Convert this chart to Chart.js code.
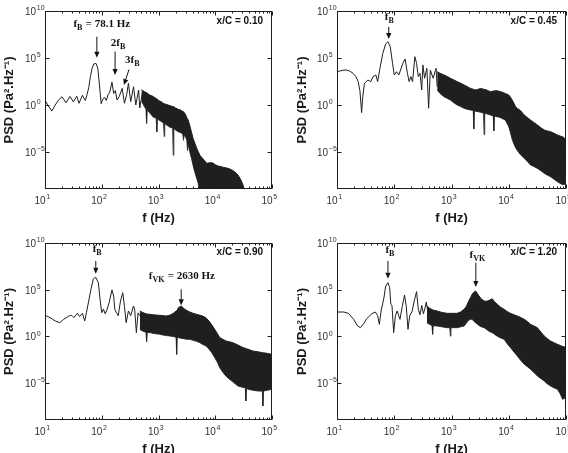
<!DOCTYPE html>
<html><head><meta charset="utf-8">
<script src="https://cdn.jsdelivr.net/npm/chart.js@4.4.1/dist/chart.umd.min.js"></script>
<style>
html,body{margin:0;padding:0;background:#fff;overflow:hidden;width:568px;height:453px;position:relative;}
.p{position:absolute;}
canvas{display:block;}
</style></head><body>
<div class="p" style="left:0;top:0"><canvas id="c0" width="284" height="226"></canvas></div>
<div class="p" style="left:284px;top:0"><canvas id="c1" width="284" height="226"></canvas></div>
<div class="p" style="left:0;top:226px"><canvas id="c2" width="284" height="231"></canvas></div>
<div class="p" style="left:284px;top:226px"><canvas id="c3" width="284" height="231"></canvas></div>
<script>
// ---- axis ticks ----
const xTickValues = [1e1, 1e2, 1e3, 1e4, 1e5];
const xTickExponents = ['1', '2', '3', '4', '5'];
const yTickValues = [1e-5, 1e0, 1e5, 1e10];
const yTickExponents = ['\u22125', '0', '5', '10'];
const tickBase = '10';
const xTitle = 'f (Hz)';
const yTitle = 'PSD (Pa².Hz⁻¹)';
const panelLabels = ['x/C = 0.10', 'x/C = 0.45', 'x/C = 0.90', 'x/C = 1.20'];

// ---- values: log10(f [Hz]) and log10(PSD) ----
// x/C = 0.10
const tlLineLogF = [1.00,1.06,1.12,1.18,1.24,1.30,1.37,1.44,1.50,1.56,1.60,1.66,1.71,1.74,1.77,1.80,1.83,1.86,1.90,1.93,1.95,1.97,1.99,2.02,2.05,2.08,2.11,2.14,2.18,2.21,2.24,2.27,2.31,2.36,2.40,2.44,2.47,2.51,2.56,2.60,2.65,2.67,2.72];
const tlLineLogPSD = [0.48,-0.14,-0.68,-0.04,0.50,0.85,0.20,0.88,0.30,0.90,0.15,1.00,0.45,1.05,1.80,3.00,3.90,4.35,4.40,3.90,2.70,1.40,0.10,0.60,0.79,0.45,1.04,1.30,2.40,1.20,1.50,0.50,0.90,1.75,0.15,1.10,2.28,0.32,1.92,-0.03,1.57,-0.35,1.39];
const tlBandLogF = [2.70,2.75,2.78,2.79,2.80,2.85,2.90,2.96,2.97,2.98,3.00,3.05,3.09,3.10,3.11,3.15,3.20,3.25,3.26,3.27,3.30,3.35,3.40,3.43,3.44,3.45,3.48,3.50,3.51,3.52,3.55,3.58,3.61,3.64,3.67,3.70,3.73,3.76,3.80,3.85,3.90,3.95,4.00,4.05,4.10,4.15,4.20,4.25,4.30,4.35,4.40,4.44,4.48,4.51];
const tlBandTopLogPSD = [1.60,1.40,1.30,1.30,1.25,1.00,0.90,0.65,0.65,0.60,0.45,0.30,0.12,0.10,0.08,0.00,-0.10,-0.20,-0.20,-0.25,-0.35,-0.50,-0.60,-0.75,-0.75,-0.80,-1.10,-1.40,-1.50,-1.60,-2.20,-2.90,-3.60,-4.10,-4.60,-5.00,-5.40,-5.60,-5.90,-6.25,-6.20,-6.20,-6.40,-6.55,-6.60,-6.70,-6.75,-6.85,-7.00,-7.20,-7.50,-7.90,-8.40,-9.00];
const tlBandBotLogPSD = [0.40,-0.20,-0.50,-2.00,-0.60,-0.90,-1.30,-1.45,-2.90,-1.50,-1.60,-1.80,-1.98,-3.40,-2.02,-2.20,-2.40,-2.50,-5.40,-2.55,-2.70,-2.90,-3.00,-3.20,-3.80,-3.25,-3.50,-3.80,-4.90,-4.20,-5.00,-5.70,-6.50,-7.20,-7.80,-8.40,-9.50,-9.50,-9.50,-9.50,-9.50,-9.50,-9.50,-9.50,-9.50,-9.50,-9.50,-9.50,-9.50,-9.50,-9.50,-9.50,-9.50,-9.50];

// x/C = 0.45
const trLineLogF = [1.00,1.05,1.10,1.16,1.22,1.28,1.33,1.37,1.40,1.43,1.45,1.48,1.54,1.59,1.63,1.68,1.71,1.75,1.80,1.85,1.89,1.93,1.97,2.00,2.04,2.08,2.11,2.15,2.19,2.23,2.26,2.29,2.32,2.36,2.39,2.42,2.45,2.48,2.50,2.53,2.57,2.60,2.63,2.68,2.73,2.75];
const trLineLogPSD = [3.50,3.60,3.68,3.70,3.60,3.35,3.00,2.46,1.50,-0.85,0.85,2.28,2.63,2.46,3.00,3.17,2.46,3.88,5.48,6.48,6.72,6.19,4.42,3.17,3.52,3.17,3.70,4.42,4.88,3.35,2.46,3.00,2.46,5.12,4.42,3.00,3.35,1.57,4.24,2.82,3.88,-0.38,3.70,2.82,3.88,1.92];
const trBandLogF = [2.75,2.80,2.87,2.93,2.98,3.04,3.10,3.16,3.22,3.27,3.33,3.38,3.39,3.40,3.42,3.47,3.51,3.56,3.57,3.58,3.60,3.64,3.68,3.73,3.74,3.75,3.77,3.82,3.86,3.90,3.94,4.00,4.03,4.06,4.09,4.12,4.15,4.20,4.27,4.33,4.38,4.44,4.50,4.56,4.62,4.67,4.73,4.79,4.85,4.90,4.94,4.97,5.00];
const trBandTopLogPSD = [3.52,3.35,3.17,3.00,2.81,2.65,2.46,2.30,2.10,1.95,1.74,1.65,1.65,1.62,1.57,1.65,1.74,1.65,1.65,1.62,1.60,1.50,1.39,1.45,1.45,1.48,1.50,1.45,1.39,1.30,1.20,1.03,0.80,0.50,0.15,-0.21,-0.40,-0.60,-1.10,-1.40,-1.64,-1.90,-2.17,-2.45,-2.70,-2.80,-2.88,-3.05,-3.24,-3.35,-3.42,-3.55,-3.77];
const trBandBotLogPSD = [1.57,1.20,0.85,0.65,0.50,0.20,-0.04,-0.20,-0.39,-0.48,-0.57,-0.62,-2.60,-0.65,-0.70,-0.75,-0.82,-0.90,-3.20,-0.93,-0.95,-1.02,-1.10,-1.20,-2.80,-1.22,-1.25,-1.32,-1.40,-1.52,-1.64,-2.35,-3.00,-3.70,-4.20,-4.60,-4.90,-5.30,-5.73,-6.10,-6.44,-6.60,-6.80,-7.05,-7.33,-7.50,-7.69,-7.95,-8.22,-8.40,-8.55,-8.50,-8.58];

// x/C = 0.90
const blLineLogF = [1.00,1.09,1.18,1.26,1.33,1.42,1.47,1.51,1.57,1.61,1.66,1.70,1.73,1.77,1.81,1.85,1.89,1.94,1.97,2.00,2.03,2.06,2.09,2.13,2.18,2.21,2.23,2.26,2.29,2.33,2.37,2.40,2.43,2.47,2.51,2.56,2.58,2.61,2.64,2.67];
const blLineLogPSD = [2.24,1.99,1.63,1.45,1.81,2.16,2.24,1.99,2.45,2.10,2.45,1.63,2.52,3.77,5.03,6.10,6.35,5.74,3.95,2.52,2.90,2.40,2.80,3.60,4.96,4.30,2.88,2.50,2.20,3.77,4.67,3.20,1.45,2.70,2.20,3.24,2.90,0.38,2.50,2.20];
const blBandLogF = [2.67,2.72,2.78,2.79,2.80,2.85,2.90,2.96,3.02,3.08,3.14,3.20,3.26,3.31,3.32,3.33,3.35,3.40,3.45,3.50,3.55,3.61,3.67,3.73,3.78,3.84,3.89,3.94,3.99,4.04,4.08,4.14,4.19,4.25,4.31,4.40,4.49,4.53,4.54,4.55,4.58,4.66,4.75,4.83,4.84,4.85,4.92,5.00];
const blBandTopLogPSD = [2.70,2.55,2.40,2.40,2.38,2.34,2.30,2.26,2.24,2.20,2.16,2.25,2.45,2.70,2.75,2.80,3.06,3.24,2.95,2.75,2.60,2.45,2.34,2.25,2.16,1.95,1.63,1.20,0.73,0.25,-0.16,-0.35,-0.52,-0.60,-0.70,-0.95,-1.23,-1.30,-1.32,-1.35,-1.40,-1.59,-1.68,-1.77,-1.77,-1.78,-1.85,-1.95];
const blBandBotLogPSD = [0.73,0.55,0.42,-0.60,0.40,0.38,0.30,0.25,0.20,0.12,0.06,0.02,-0.05,-0.12,-1.95,-0.13,-0.16,-0.22,-0.28,-0.34,-0.34,-0.45,-0.55,-0.70,-0.90,-1.06,-1.40,-1.77,-2.30,-2.84,-3.40,-3.92,-4.30,-4.63,-4.90,-5.35,-5.50,-5.55,-6.96,-5.60,-5.71,-5.80,-5.89,-5.90,-7.50,-5.90,-5.80,-5.71];

// x/C = 1.20
const brLineLogF = [1.00,1.12,1.20,1.29,1.36,1.41,1.47,1.52,1.61,1.67,1.71,1.74,1.77,1.82,1.85,1.89,1.92,1.94,1.96,1.99,2.02,2.05,2.10,2.14,2.18,2.21,2.24,2.27,2.31,2.35,2.39,2.42,2.45,2.48,2.51,2.54,2.56,2.59];
const brLineLogPSD = [2.59,2.59,2.45,1.81,1.09,0.91,1.38,1.88,2.42,2.59,2.20,1.27,2.70,4.13,5.38,5.74,5.20,3.42,3.30,0.38,2.20,2.70,1.80,3.20,4.42,3.20,0.73,2.20,2.60,3.80,4.78,2.90,2.30,3.30,2.40,3.10,3.67,2.40];
const brBandLogF = [2.57,2.62,2.66,2.67,2.68,2.75,2.83,2.92,2.97,2.98,2.99,3.04,3.10,3.16,3.22,3.26,3.30,3.33,3.36,3.39,3.42,3.45,3.48,3.52,3.57,3.62,3.66,3.71,3.75,3.80,3.86,3.92,3.97,4.03,4.09,4.15,4.21,4.27,4.33,4.38,4.44,4.50,4.56,4.62,4.67,4.73,4.79,4.85,4.90,4.94,4.97,5.00];
const brBandTopLogPSD = [3.24,3.00,2.85,2.85,2.80,2.70,2.55,2.45,2.45,2.45,2.45,2.45,2.45,2.60,2.88,3.20,3.77,4.10,4.49,4.70,4.85,4.60,4.31,4.00,3.77,3.75,3.85,4.02,3.70,3.42,3.10,2.88,2.65,2.45,2.30,2.16,2.00,1.81,1.55,1.27,1.10,0.91,0.45,0.02,-0.25,-0.52,-0.70,-0.88,-1.00,-1.10,-1.15,-1.23];
const brBandBotLogPSD = [1.45,1.25,1.15,0.20,1.12,1.09,1.00,0.91,0.91,0.00,0.91,0.91,0.91,1.00,1.09,1.40,1.70,1.81,1.81,1.60,1.45,1.30,1.15,1.00,0.91,0.70,0.50,0.38,0.20,0.00,-0.20,-0.34,-0.80,-1.23,-1.70,-2.13,-2.60,-3.02,-3.30,-3.56,-3.90,-4.28,-4.55,-4.81,-5.10,-5.35,-5.55,-5.71,-6.20,-6.78,-6.70,-6.60];

// ---- rendering ----
const SANS = '"Liberation Sans", Arial, Helvetica, sans-serif';
const SERIF = '"Liberation Serif", "Times New Roman", serif';

function toPoints(logF, logP) {
  return logF.map((f, i) => ({ x: Math.pow(10, f), y: Math.pow(10, logP[i]) }));
}

const framePlugin = {
  id: 'frame',
  afterDatasetsDraw(chart) {
    const { ctx, chartArea: a, scales: { x, y } } = chart;
    ctx.save();
    ctx.strokeStyle = '#1e1e1e';
    ctx.lineWidth = 1;
    const L = Math.round(a.left) + 0.5, R = Math.round(a.right) - 0.5;
    const T = Math.round(a.top) + 0.5, B = Math.round(a.bottom) - 0.5;
    ctx.strokeRect(L, T, R - L, B - T);
    ctx.beginPath();
    for (let e = 1; e <= 5; e++) {
      for (let m = 1; m <= 9; m++) {
        if (e === 5 && m > 1) break;
        const px = Math.round(x.getPixelForValue(m * Math.pow(10, e))) + 0.5;
        const len = m === 1 ? 4 : 2;
        ctx.moveTo(px, B); ctx.lineTo(px, B - len);
        ctx.moveTo(px, T); ctx.lineTo(px, T + len);
      }
    }
    for (const v of yTickValues) {
      const py = Math.round(y.getPixelForValue(v)) + 0.5;
      ctx.moveTo(L, py); ctx.lineTo(L + 4, py);
      ctx.moveTo(R, py); ctx.lineTo(R - 4, py);
    }
    ctx.stroke();

    // power-of-ten tick labels
    ctx.fillStyle = '#333';
    ctx.textBaseline = 'middle';
    const baseFont = '10px ' + SANS, expFont = '7px ' + SANS;
    xTickValues.forEach((v, i) => {
      const px = x.getPixelForValue(v);
      ctx.font = baseFont; ctx.textAlign = 'right';
      ctx.fillText(tickBase, px + 0.5, a.bottom + 12.5);
      ctx.font = expFont; ctx.textAlign = 'left';
      ctx.fillText(xTickExponents[i], px + 1.2, a.bottom + 8.5);
    });
    yTickValues.forEach((v, i) => {
      const py = y.getPixelForValue(v);
      ctx.font = baseFont; ctx.textAlign = 'right';
      const bx = a.left - 9;
      ctx.fillText(tickBase, bx, py + 1.5);
      ctx.font = expFont; ctx.textAlign = 'left';
      ctx.fillText(yTickExponents[i], bx + 0.8, py - 2.5);
    });
    ctx.restore();
  }
};

function notesPlugin(n) {
  return {
    id: 'notes',
    afterDraw(chart) {
      const { ctx, chartArea: a, scales: { x, y } } = chart;
      ctx.save();
      ctx.fillStyle = '#111';
      ctx.strokeStyle = '#111';
      ctx.font = 'bold 10px ' + SANS;
      ctx.textAlign = 'right';
      ctx.textBaseline = 'alphabetic';
      ctx.fillText(n.label, a.right - 9, a.top + n.labelDy);
      for (const ar of n.arrows) {
        const x0 = x.getPixelForValue(Math.pow(10, ar.from[0]));
        const y0 = y.getPixelForValue(Math.pow(10, ar.from[1]));
        const x1 = x.getPixelForValue(Math.pow(10, ar.to[0]));
        const y1 = y.getPixelForValue(Math.pow(10, ar.to[1]));
        const ang = Math.atan2(y1 - y0, x1 - x0);
        const hl = 6, hw = 2.6;
        const bx = x1 - hl * Math.cos(ang), by = y1 - hl * Math.sin(ang);
        ctx.lineWidth = 1;
        ctx.beginPath(); ctx.moveTo(x0, y0); ctx.lineTo(bx, by); ctx.stroke();
        ctx.beginPath();
        ctx.moveTo(x1, y1);
        ctx.lineTo(bx + hw * Math.sin(ang), by - hw * Math.cos(ang));
        ctx.lineTo(bx - hw * Math.sin(ang), by + hw * Math.cos(ang));
        ctx.closePath(); ctx.fill();
      }
      ctx.textAlign = 'left';
      for (const t of n.texts) {
        let px = x.getPixelForValue(Math.pow(10, t.at[0]));
        const py = y.getPixelForValue(Math.pow(10, t.at[1]));
        for (const part of t.parts) {
          ctx.font = 'bold ' + (part.sub ? 8 : 11) + 'px ' + SERIF;
          ctx.fillText(part.t, px, py + (part.sub ? 3 : 0));
          px += ctx.measureText(part.t).width + (part.sub ? 0.5 : 0);
        }
      }
      ctx.restore();
    }
  };
}

function makePanel(id, g, s, notes) {
  const datasets = [
    { data: toPoints(s.lineF, s.lineP), showLine: true, borderColor: '#1e1e1e', borderWidth: 1, pointRadius: 0, fill: false, tension: 0 },
    { data: toPoints(s.bandF, s.bandTop), showLine: true, borderColor: '#1e1e1e', borderWidth: 1, backgroundColor: '#1f1f1f', pointRadius: 0, fill: '+1', tension: 0 },
    { data: toPoints(s.bandF, s.bandBot), showLine: true, borderColor: '#3c3c3c', borderWidth: 1, pointRadius: 0, fill: false, tension: 0 }
  ];
  new Chart(document.getElementById(id), {
    type: 'scatter',
    data: { datasets },
    options: {
      responsive: false,
      animation: false,
      events: [],
      layout: { padding: { top: g.padTop, right: g.padRight, left: 0, bottom: 0 } },
      plugins: { legend: { display: false }, tooltip: { enabled: false } },
      scales: {
        x: {
          type: 'logarithmic', min: 1e1, max: 1e5, position: 'bottom',
          grid: { display: false, drawTicks: false }, border: { display: false },
          afterBuildTicks: (sc) => { sc.ticks = xTickValues.map(v => ({ value: v })); },
          afterFit: (sc) => { sc.height = g.xH; sc.paddingLeft = 0; sc.paddingRight = 0; },
          ticks: { display: false },
          title: { display: true, text: xTitle, color: '#1a1a1a', padding: { top: 0, bottom: 0 },
                   font: { family: SANS, size: 13, weight: 'bold' } }
        },
        y: {
          type: 'logarithmic', min: 1e-9, max: 1e10, position: 'left',
          grid: { display: false, drawTicks: false }, border: { display: false },
          afterBuildTicks: (sc) => { sc.ticks = yTickValues.map(v => ({ value: v })); },
          afterFit: (sc) => { sc.width = g.yW; sc.paddingTop = 0; sc.paddingBottom = 0; },
          ticks: { display: false },
          title: { display: true, text: yTitle, color: '#1a1a1a', padding: { top: g.titlePad, bottom: 0 },
                   font: { family: SANS, size: 13, weight: 'bold' } }
        }
      }
    },
    plugins: [framePlugin, notesPlugin(notes)]
  });
}

const fB = [{ t: 'f' }, { t: 'B', sub: true }];

makePanel('c0', { padTop: 11, padRight: 12, yW: 45, xH: 37, titlePad: 2 },
  { lineF: tlLineLogF, lineP: tlLineLogPSD, bandF: tlBandLogF, bandTop: tlBandTopLogPSD, bandBot: tlBandBotLogPSD },
  { label: panelLabels[0], labelDy: 13,
    arrows: [ { from: [1.914, 7.26], to: [1.914, 5.0] },
              { from: [2.235, 5.66], to: [2.235, 3.17] },
              { from: [2.48, 3.75], to: [2.39, 2.1] } ],
    texts: [ { at: [1.50, 8.26], parts: [{ t: 'f' }, { t: 'B', sub: true }, { t: ' = 78.1 Hz' }] },
             { at: [2.16, 6.26], parts: [{ t: '2f' }, { t: 'B', sub: true }] },
             { at: [2.41, 4.42], parts: [{ t: '3f' }, { t: 'B', sub: true }] } ] });

makePanel('c1', { padTop: 11, padRight: 2, yW: 53, xH: 37, titlePad: 11 },
  { lineF: trLineLogF, lineP: trLineLogPSD, bandF: trBandLogF, bandTop: trBandTopLogPSD, bandBot: trBandBotLogPSD },
  { label: panelLabels[1], labelDy: 13,
    arrows: [ { from: [1.904, 8.3], to: [1.904, 7.0] } ],
    texts: [ { at: [1.834, 9.0], parts: fB } ] });

makePanel('c2', { padTop: 17, padRight: 12, yW: 45, xH: 37, titlePad: 2 },
  { lineF: blLineLogF, lineP: blLineLogPSD, bandF: blBandLogF, bandTop: blBandTopLogPSD, bandBot: blBandBotLogPSD },
  { label: panelLabels[2], labelDy: 12,
    arrows: [ { from: [1.895, 8.07], to: [1.895, 6.7] },
              { from: [3.40, 5.03], to: [3.40, 3.31] } ],
    texts: [ { at: [1.84, 9.03], parts: fB },
             { at: [2.83, 6.10], parts: [{ t: 'f' }, { t: 'VK', sub: true }, { t: ' = 2630 Hz' }] } ] });

makePanel('c3', { padTop: 17, padRight: 2, yW: 53, xH: 37, titlePad: 11 },
  { lineF: brLineLogF, lineP: brLineLogPSD, bandF: brBandLogF, bandTop: brBandTopLogPSD, bandBot: brBandBotLogPSD },
  { label: panelLabels[3], labelDy: 12,
    arrows: [ { from: [1.89, 8.07], to: [1.89, 6.17] },
              { from: [3.425, 7.89], to: [3.425, 5.28] } ],
    texts: [ { at: [1.846, 8.96], parts: fB },
             { at: [3.315, 8.42], parts: [{ t: 'f' }, { t: 'VK', sub: true }] } ] });
</script>
</body></html>
